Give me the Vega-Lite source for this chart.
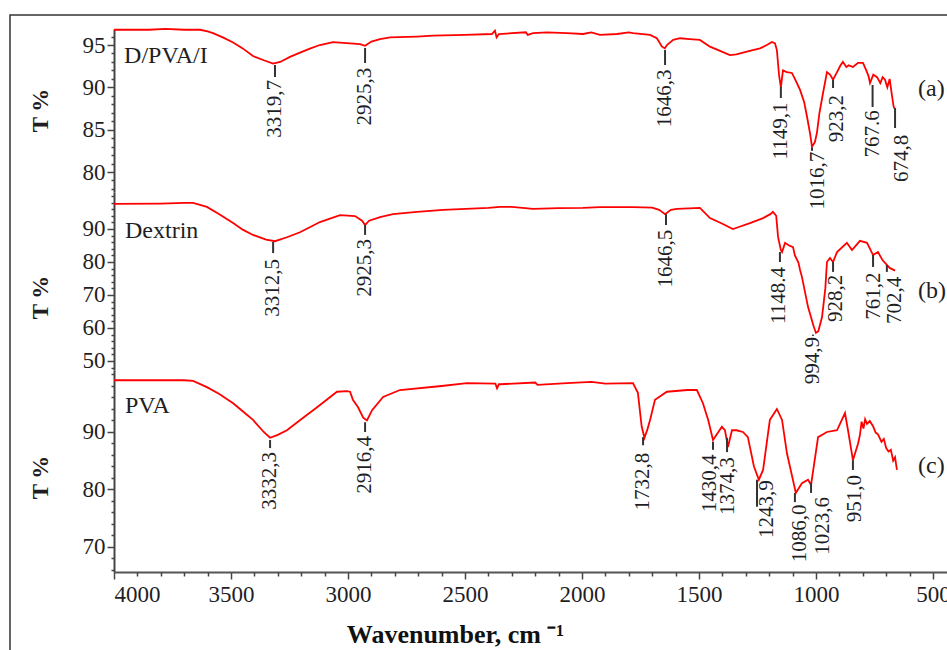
{
  "$schema": "https://vega.github.io/schema/vega-lite/v6.json",
  "autosize": "none",
  "width": 942,
  "height": 640,
  "padding": {"left": 10, "top": 15, "right": -5, "bottom": -5},
  "background": "white",
  "config": {
    "view": {"stroke": "#333333", "strokeWidth": 1.5},
    "axis": {"grid": false},
    "text": {"font": "Liberation Serif", "color": "#1e1e24"}
  },
  "datasets": {
    "spectra": [
      {"s":"a","wn":4000,"T":96.8},{"s":"a","wn":3850,"T":96.8},{"s":"a","wn":3780,"T":96.9},{"s":"a","wn":3700,"T":96.8},{"s":"a","wn":3632,"T":96.8},{"s":"a","wn":3600,"T":96.6},{"s":"a","wn":3577,"T":96.4},{"s":"a","wn":3535,"T":95.9},{"s":"a","wn":3491,"T":95.3},{"s":"a","wn":3450,"T":94.6},{"s":"a","wn":3406,"T":93.7},{"s":"a","wn":3360,"T":93.2},{"s":"a","wn":3320,"T":92.8},{"s":"a","wn":3290,"T":93.0},{"s":"a","wn":3248,"T":93.6},{"s":"a","wn":3205,"T":94.1},{"s":"a","wn":3160,"T":94.6},{"s":"a","wn":3120,"T":95.0},{"s":"a","wn":3064,"T":95.35},{"s":"a","wn":2991,"T":95.2},{"s":"a","wn":2949,"T":95.1},{"s":"a","wn":2927,"T":94.9},{"s":"a","wn":2900,"T":95.4},{"s":"a","wn":2863,"T":95.7},{"s":"a","wn":2820,"T":95.9},{"s":"a","wn":2705,"T":96.0},{"s":"a","wn":2637,"T":96.1},{"s":"a","wn":2500,"T":96.2},{"s":"a","wn":2385,"T":96.3},{"s":"a","wn":2372,"T":96.7},{"s":"a","wn":2365,"T":95.9},{"s":"a","wn":2355,"T":96.3},{"s":"a","wn":2240,"T":96.5},{"s":"a","wn":2232,"T":96.2},{"s":"a","wn":2209,"T":96.4},{"s":"a","wn":2150,"T":96.5},{"s":"a","wn":2064,"T":96.4},{"s":"a","wn":1996,"T":96.3},{"s":"a","wn":1960,"T":96.5},{"s":"a","wn":1923,"T":96.2},{"s":"a","wn":1850,"T":96.3},{"s":"a","wn":1800,"T":96.5},{"s":"a","wn":1782,"T":96.4},{"s":"a","wn":1709,"T":96.2},{"s":"a","wn":1680,"T":95.8},{"s":"a","wn":1658,"T":94.8},{"s":"a","wn":1646,"T":94.6},{"s":"a","wn":1637,"T":95.0},{"s":"a","wn":1610,"T":95.6},{"s":"a","wn":1581,"T":95.8},{"s":"a","wn":1540,"T":95.7},{"s":"a","wn":1496,"T":95.6},{"s":"a","wn":1453,"T":94.8},{"s":"a","wn":1410,"T":94.3},{"s":"a","wn":1368,"T":93.8},{"s":"a","wn":1340,"T":93.9},{"s":"a","wn":1312,"T":94.1},{"s":"a","wn":1270,"T":94.4},{"s":"a","wn":1239,"T":94.6},{"s":"a","wn":1210,"T":95.0},{"s":"a","wn":1188,"T":95.35},{"s":"a","wn":1175,"T":95.2},{"s":"a","wn":1167,"T":94.4},{"s":"a","wn":1158,"T":91.5},{"s":"a","wn":1150,"T":90.0},{"s":"a","wn":1141,"T":92.0},{"s":"a","wn":1125,"T":91.8},{"s":"a","wn":1103,"T":91.7},{"s":"a","wn":1090,"T":91.0},{"s":"a","wn":1068,"T":89.7},{"s":"a","wn":1050,"T":88.2},{"s":"a","wn":1038,"T":86.5},{"s":"a","wn":1025,"T":84.5},{"s":"a","wn":1017,"T":83.0},{"s":"a","wn":1005,"T":83.5},{"s":"a","wn":996,"T":84.6},{"s":"a","wn":985,"T":87.0},{"s":"a","wn":970,"T":89.3},{"s":"a","wn":953,"T":91.8},{"s":"a","wn":940,"T":91.5},{"s":"a","wn":927,"T":90.9},{"s":"a","wn":910,"T":91.8},{"s":"a","wn":895,"T":92.6},{"s":"a","wn":885,"T":93.0},{"s":"a","wn":870,"T":92.4},{"s":"a","wn":860,"T":92.6},{"s":"a","wn":842,"T":92.4},{"s":"a","wn":820,"T":92.9},{"s":"a","wn":799,"T":92.9},{"s":"a","wn":785,"T":92.0},{"s":"a","wn":775,"T":91.3},{"s":"a","wn":769,"T":90.5},{"s":"a","wn":755,"T":91.5},{"s":"a","wn":739,"T":91.2},{"s":"a","wn":725,"T":90.5},{"s":"a","wn":715,"T":91.2},{"s":"a","wn":705,"T":90.9},{"s":"a","wn":695,"T":90.0},{"s":"a","wn":685,"T":91.0},{"s":"a","wn":675,"T":89.0},{"s":"a","wn":668,"T":87.7},{"s":"a","wn":664,"T":87.5},

      {"s":"b","wn":4000,"T":97.6},{"s":"b","wn":3800,"T":97.7},{"s":"b","wn":3700,"T":97.9},{"s":"b","wn":3662,"T":97.9},{"s":"b","wn":3603,"T":96.7},{"s":"b","wn":3550,"T":94.5},{"s":"b","wn":3491,"T":91.8},{"s":"b","wn":3450,"T":89.8},{"s":"b","wn":3406,"T":88.2},{"s":"b","wn":3350,"T":86.8},{"s":"b","wn":3312,"T":86.3},{"s":"b","wn":3261,"T":87.5},{"s":"b","wn":3205,"T":89.0},{"s":"b","wn":3120,"T":92.1},{"s":"b","wn":3034,"T":94.2},{"s":"b","wn":2970,"T":93.9},{"s":"b","wn":2940,"T":92.5},{"s":"b","wn":2927,"T":91.2},{"s":"b","wn":2910,"T":92.5},{"s":"b","wn":2863,"T":93.6},{"s":"b","wn":2808,"T":94.5},{"s":"b","wn":2705,"T":95.2},{"s":"b","wn":2594,"T":95.8},{"s":"b","wn":2400,"T":96.4},{"s":"b","wn":2350,"T":96.7},{"s":"b","wn":2300,"T":96.7},{"s":"b","wn":2209,"T":96.1},{"s":"b","wn":2100,"T":96.3},{"s":"b","wn":1996,"T":96.4},{"s":"b","wn":1923,"T":96.6},{"s":"b","wn":1782,"T":96.6},{"s":"b","wn":1700,"T":96.5},{"s":"b","wn":1670,"T":95.8},{"s":"b","wn":1645,"T":94.5},{"s":"b","wn":1620,"T":95.8},{"s":"b","wn":1594,"T":96.1},{"s":"b","wn":1496,"T":96.4},{"s":"b","wn":1453,"T":93.3},{"s":"b","wn":1400,"T":91.6},{"s":"b","wn":1355,"T":90.0},{"s":"b","wn":1330,"T":90.6},{"s":"b","wn":1282,"T":91.8},{"s":"b","wn":1226,"T":93.3},{"s":"b","wn":1195,"T":94.5},{"s":"b","wn":1184,"T":95.2},{"s":"b","wn":1170,"T":94.0},{"s":"b","wn":1162,"T":87.6},{"s":"b","wn":1150,"T":83.6},{"s":"b","wn":1145,"T":83.0},{"s":"b","wn":1132,"T":85.8},{"s":"b","wn":1115,"T":85.0},{"s":"b","wn":1098,"T":84.5},{"s":"b","wn":1090,"T":82.0},{"s":"b","wn":1075,"T":79.8},{"s":"b","wn":1068,"T":77.6},{"s":"b","wn":1060,"T":75.5},{"s":"b","wn":1034,"T":66.4},{"s":"b","wn":1010,"T":60.5},{"s":"b","wn":1000,"T":58.5},{"s":"b","wn":990,"T":59.0},{"s":"b","wn":974,"T":63.3},{"s":"b","wn":960,"T":72.0},{"s":"b","wn":953,"T":80.0},{"s":"b","wn":940,"T":81.2},{"s":"b","wn":927,"T":80.0},{"s":"b","wn":910,"T":83.0},{"s":"b","wn":868,"T":85.8},{"s":"b","wn":846,"T":83.6},{"s":"b","wn":812,"T":86.4},{"s":"b","wn":782,"T":85.8},{"s":"b","wn":769,"T":84.0},{"s":"b","wn":756,"T":82.1},{"s":"b","wn":735,"T":83.0},{"s":"b","wn":715,"T":80.5},{"s":"b","wn":697,"T":79.1},{"s":"b","wn":685,"T":78.2},{"s":"b","wn":662,"T":77.4},

      {"s":"c","wn":4000,"T":99.0},{"s":"c","wn":3800,"T":99.0},{"s":"c","wn":3700,"T":99.0},{"s":"c","wn":3662,"T":98.9},{"s":"c","wn":3603,"T":97.8},{"s":"c","wn":3550,"T":96.6},{"s":"c","wn":3491,"T":95.0},{"s":"c","wn":3450,"T":93.6},{"s":"c","wn":3406,"T":92.1},{"s":"c","wn":3360,"T":90.0},{"s":"c","wn":3333,"T":89.0},{"s":"c","wn":3300,"T":89.5},{"s":"c","wn":3261,"T":90.3},{"s":"c","wn":3200,"T":92.2},{"s":"c","wn":3132,"T":94.3},{"s":"c","wn":3047,"T":97.0},{"s":"c","wn":3004,"T":97.1},{"s":"c","wn":2991,"T":97.0},{"s":"c","wn":2979,"T":95.6},{"s":"c","wn":2957,"T":94.3},{"s":"c","wn":2935,"T":92.5},{"s":"c","wn":2919,"T":92.0},{"s":"c","wn":2897,"T":93.8},{"s":"c","wn":2850,"T":96.1},{"s":"c","wn":2778,"T":97.3},{"s":"c","wn":2600,"T":98.0},{"s":"c","wn":2491,"T":98.5},{"s":"c","wn":2370,"T":98.4},{"s":"c","wn":2363,"T":97.6},{"s":"c","wn":2355,"T":98.3},{"s":"c","wn":2350,"T":98.3},{"s":"c","wn":2200,"T":98.6},{"s":"c","wn":2190,"T":98.2},{"s":"c","wn":2064,"T":98.5},{"s":"c","wn":1960,"T":98.7},{"s":"c","wn":1900,"T":98.4},{"s":"c","wn":1782,"T":98.5},{"s":"c","wn":1761,"T":96.8},{"s":"c","wn":1745,"T":91.0},{"s":"c","wn":1733,"T":89.0},{"s":"c","wn":1720,"T":90.5},{"s":"c","wn":1709,"T":92.1},{"s":"c","wn":1688,"T":95.6},{"s":"c","wn":1637,"T":97.0},{"s":"c","wn":1550,"T":97.3},{"s":"c","wn":1509,"T":97.3},{"s":"c","wn":1483,"T":95.0},{"s":"c","wn":1460,"T":92.0},{"s":"c","wn":1440,"T":88.6},{"s":"c","wn":1425,"T":89.5},{"s":"c","wn":1402,"T":90.9},{"s":"c","wn":1389,"T":90.3},{"s":"c","wn":1376,"T":87.4},{"s":"c","wn":1359,"T":90.3},{"s":"c","wn":1340,"T":90.3},{"s":"c","wn":1312,"T":90.0},{"s":"c","wn":1291,"T":89.1},{"s":"c","wn":1265,"T":84.0},{"s":"c","wn":1244,"T":81.7},{"s":"c","wn":1226,"T":83.4},{"s":"c","wn":1197,"T":92.1},{"s":"c","wn":1167,"T":94.0},{"s":"c","wn":1145,"T":92.1},{"s":"c","wn":1124,"T":86.3},{"s":"c","wn":1086,"T":79.4},{"s":"c","wn":1060,"T":81.1},{"s":"c","wn":1034,"T":81.7},{"s":"c","wn":1021,"T":80.8},{"s":"c","wn":991,"T":89.1},{"s":"c","wn":953,"T":90.0},{"s":"c","wn":910,"T":90.3},{"s":"c","wn":876,"T":93.3},{"s":"c","wn":863,"T":90.3},{"s":"c","wn":842,"T":85.1},{"s":"c","wn":820,"T":88.0},{"s":"c","wn":812,"T":89.5},{"s":"c","wn":805,"T":91.8},{"s":"c","wn":797,"T":90.6},{"s":"c","wn":790,"T":92.2},{"s":"c","wn":782,"T":91.4},{"s":"c","wn":770,"T":91.9},{"s":"c","wn":756,"T":91.0},{"s":"c","wn":745,"T":89.9},{"s":"c","wn":735,"T":89.6},{"s":"c","wn":720,"T":88.3},{"s":"c","wn":710,"T":88.8},{"s":"c","wn":700,"T":87.2},{"s":"c","wn":690,"T":86.6},{"s":"c","wn":680,"T":86.9},{"s":"c","wn":670,"T":85.0},{"s":"c","wn":662,"T":85.6},{"s":"c","wn":654,"T":83.4}
    ],
    "peaks": [
      {"s":"a","x":3312,"y1":92.64,"y2":91.22,"lx":3312,"ly":90.87,"t":"3319,7"},
      {"s":"a","x":2927,"y1":94.65,"y2":92.87,"lx":2927,"ly":92.3,"t":"2925,3"},
      {"s":"a","x":1645,"y1":94.41,"y2":92.64,"lx":1645,"ly":92.1,"t":"1646,3"},
      {"s":"a","x":1150,"y1":90.04,"y2":88.74,"lx":1150,"ly":88.2,"t":"1149,1"},
      {"s":"a","x":1017,"y1":82.9,"y2":82.5,"lx":991,"ly":82.4,"t":"1016,7"},
      {"s":"a","x":927,"y1":90.87,"y2":89.92,"lx":910,"ly":89.1,"t":"923,2"},
      {"s":"a","x":758,"y1":90.28,"y2":87.68,"lx":758,"ly":87.3,"t":"767.6"},
      {"s":"a","x":662,"y1":87.56,"y2":85.2,"lx":634,"ly":84.4,"t":"674,8"},
      {"s":"b","x":3320,"y1":86.06,"y2":82.7,"lx":3320,"ly":80.9,"t":"3312,5"},
      {"s":"b","x":2927,"y1":91.2,"y2":88.2,"lx":2927,"ly":87.0,"t":"2925,3"},
      {"s":"b","x":1641,"y1":94.5,"y2":91.2,"lx":1641,"ly":89.8,"t":"1646,5"},
      {"s":"b","x":1154,"y1":83.0,"y2":80.0,"lx":1160,"ly":78.5,"t":"1148.4"},
      {"s":"b","x":1013,"y1":58.0,"y2":57.6,"lx":1013,"ly":57.3,"t":"994,9"},
      {"s":"b","x":927,"y1":80.0,"y2":77.0,"lx":914,"ly":76.1,"t":"928,2"},
      {"s":"b","x":756,"y1":82.1,"y2":78.5,"lx":752,"ly":76.8,"t":"761,2"},
      {"s":"b","x":697,"y1":79.1,"y2":77.0,"lx":662,"ly":75.5,"t":"702,4"},
      {"s":"c","x":3333,"y1":88.6,"y2":87.2,"lx":3333,"ly":86.5,"t":"3332,3"},
      {"s":"c","x":2927,"y1":91.7,"y2":90.0,"lx":2927,"ly":89.3,"t":"2916,4"},
      {"s":"c","x":1739,"y1":89.1,"y2":87.7,"lx":1739,"ly":86.4,"t":"1732,8"},
      {"s":"c","x":1440,"y1":88.3,"y2":86.9,"lx":1453,"ly":86.1,"t":"1430,4"},
      {"s":"c","x":1380,"y1":89.0,"y2":86.5,"lx":1376,"ly":85.6,"t":"1374,3"},
      {"s":"c","x":1252,"y1":81.7,"y2":77.0,"lx":1209,"ly":81.6,"t":"1243,9"},
      {"s":"c","x":1090,"y1":79.4,"y2":77.8,"lx":1068,"ly":77.4,"t":"1086,0"},
      {"s":"c","x":1021,"y1":81.1,"y2":79.4,"lx":970,"ly":78.7,"t":"1023,6"},
      {"s":"c","x":842,"y1":85.1,"y2":83.4,"lx":833,"ly":82.5,"t":"951,0"}
    ],
    "names": [
      {"s":"a","x":3957,"y":92.87,"t":"D/PVA/I"},
      {"s":"a","x":564,"y":88.98,"t":"(a)"},
      {"s":"b","x":3953,"y":87.27,"t":"Dextrin"},
      {"s":"b","x":564,"y":69.1,"t":"(b)"},
      {"s":"c","x":3953,"y":93.3,"t":"PVA"},
      {"s":"c","x":564,"y":82.9,"t":"(c)"}
    ]
  },
  "layer": [
    {
      "layer": [
        {
          "data": {"name": "spectra"},
          "transform": [{"filter": "datum.s === 'a'"}],
          "mark": {"type": "line", "color": "#ff0000", "strokeWidth": 1.8},
          "encoding": {
            "x": {"field": "wn", "type": "quantitative", "scale": {"domain": [4000, 440], "range": [104, 937], "nice": false, "zero": false}, "axis": null},
            "y": {"field": "T", "type": "quantitative", "scale": {"domain": [77.64, 96.89], "range": [177, 14], "nice": false, "zero": false},
              "axis": {"orient": "left", "offset": -104, "values": [80, 85, 90, 95],
                "tickSize": 7, "tickColor": "#444444", "tickWidth": 1.5, "domainColor": "#444444", "domainWidth": 2,
                "labelFont": "Liberation Serif", "labelFontSize": 23, "labelColor": "#1e1e24", "labelPadding": 2,
                "title": "T %", "titleFont": "Liberation Serif", "titleFontSize": 23, "titleFontWeight": "bold", "titleColor": "#1e1e24",
                "titleX": -74, "titleY": 95, "titleAngle": -90, "titleAlign": "center", "titleBaseline": "middle"}}
          }
        },
        {
          "data": {"name": "peaks"},
          "transform": [{"filter": "datum.s === 'a'"}],
          "mark": {"type": "rule", "color": "#333333", "strokeWidth": 2},
          "encoding": {
            "x": {"field": "x", "type": "quantitative", "scale": {"domain": [4000, 440], "range": [104, 937], "nice": false, "zero": false}, "axis": null},
            "y": {"field": "y1", "type": "quantitative", "scale": {"domain": [77.64, 96.89], "range": [177, 14], "nice": false, "zero": false},
              "axis": {"orient": "left", "offset": -104, "values": [78,79,81,82,83,84,86,87,88,89,91,92,93,94,96],
                "labels": false, "domain": false, "title": null, "tickSize": 3, "tickColor": "#444444", "tickWidth": 1.5}},
            "y2": {"field": "y2"}
          }
        },
        {
          "data": {"name": "peaks"},
          "transform": [{"filter": "datum.s === 'a'"}],
          "mark": {"type": "text", "angle": 270, "align": "right", "baseline": "middle", "fontSize": 21},
          "encoding": {
            "x": {"field": "lx", "type": "quantitative", "scale": {"domain": [4000, 440], "range": [104, 937], "nice": false, "zero": false}, "axis": null},
            "y": {"field": "ly", "type": "quantitative", "scale": {"domain": [77.64, 96.89], "range": [177, 14], "nice": false, "zero": false}, "axis": null},
            "text": {"field": "t"}
          }
        },
        {
          "data": {"name": "names"},
          "transform": [{"filter": "datum.s === 'a'"}],
          "mark": {"type": "text", "align": "left", "baseline": "alphabetic", "fontSize": 24},
          "encoding": {
            "x": {"field": "x", "type": "quantitative", "scale": {"domain": [4000, 440], "range": [104, 937], "nice": false, "zero": false}, "axis": null},
            "y": {"field": "y", "type": "quantitative", "scale": {"domain": [77.64, 96.89], "range": [177, 14], "nice": false, "zero": false}, "axis": null},
            "text": {"field": "t"}
          }
        }
      ],
      "resolve": {"axis": {"y": "independent"}}
    },
    {
      "layer": [
        {
          "data": {"name": "spectra"},
          "transform": [{"filter": "datum.s === 'b'"}],
          "mark": {"type": "line", "color": "#ff0000", "strokeWidth": 1.8},
          "encoding": {
            "x": {"field": "wn", "type": "quantitative", "scale": {"domain": [4000, 440], "range": [104, 937], "nice": false, "zero": false}, "axis": null},
            "y": {"field": "T", "type": "quantitative", "scale": {"domain": [47.27, 101.21], "range": [355, 177], "nice": false, "zero": false},
              "axis": {"orient": "left", "offset": -104, "values": [50, 60, 70, 80, 90],
                "tickSize": 7, "tickColor": "#444444", "tickWidth": 1.5, "domainColor": "#444444", "domainWidth": 2,
                "labelFont": "Liberation Serif", "labelFontSize": 23, "labelColor": "#1e1e24", "labelPadding": 2,
                "title": "T %", "titleFont": "Liberation Serif", "titleFontSize": 23, "titleFontWeight": "bold", "titleColor": "#1e1e24",
                "titleX": -74, "titleY": 282, "titleAngle": -90, "titleAlign": "center", "titleBaseline": "middle"}}
          }
        },
        {
          "data": {"name": "peaks"},
          "transform": [{"filter": "datum.s === 'b'"}],
          "mark": {"type": "rule", "color": "#333333", "strokeWidth": 2},
          "encoding": {
            "x": {"field": "x", "type": "quantitative", "scale": {"domain": [4000, 440], "range": [104, 937], "nice": false, "zero": false}, "axis": null},
            "y": {"field": "y1", "type": "quantitative", "scale": {"domain": [47.27, 101.21], "range": [355, 177], "nice": false, "zero": false},
              "axis": {"orient": "left", "offset": -104, "values": [48,52,54,56,58,62,64,66,68,72,74,76,78,82,84,86,88,92,94,96,98,100],
                "labels": false, "domain": false, "title": null, "tickSize": 3, "tickColor": "#444444", "tickWidth": 1.5}},
            "y2": {"field": "y2"}
          }
        },
        {
          "data": {"name": "peaks"},
          "transform": [{"filter": "datum.s === 'b'"}],
          "mark": {"type": "text", "angle": 270, "align": "right", "baseline": "middle", "fontSize": 21},
          "encoding": {
            "x": {"field": "lx", "type": "quantitative", "scale": {"domain": [4000, 440], "range": [104, 937], "nice": false, "zero": false}, "axis": null},
            "y": {"field": "ly", "type": "quantitative", "scale": {"domain": [47.27, 101.21], "range": [355, 177], "nice": false, "zero": false}, "axis": null},
            "text": {"field": "t"}
          }
        },
        {
          "data": {"name": "names"},
          "transform": [{"filter": "datum.s === 'b'"}],
          "mark": {"type": "text", "align": "left", "baseline": "alphabetic", "fontSize": 24},
          "encoding": {
            "x": {"field": "x", "type": "quantitative", "scale": {"domain": [4000, 440], "range": [104, 937], "nice": false, "zero": false}, "axis": null},
            "y": {"field": "y", "type": "quantitative", "scale": {"domain": [47.27, 101.21], "range": [355, 177], "nice": false, "zero": false}, "axis": null},
            "text": {"field": "t"}
          }
        }
      ],
      "resolve": {"axis": {"y": "independent"}}
    },
    {
      "layer": [
        {
          "data": {"name": "spectra"},
          "transform": [{"filter": "datum.s === 'c'"}],
          "mark": {"type": "line", "color": "#ff0000", "strokeWidth": 1.8},
          "encoding": {
            "x": {"field": "wn", "type": "quantitative", "scale": {"domain": [4000, 440], "range": [104, 937], "nice": false, "zero": false},
              "axis": {"orient": "bottom", "offset": -83,
                "values": [4000, 3500, 3000, 2500, 2000, 1500, 1000, 500],
                "format": "d",
                "tickSize": 7, "tickColor": "#444444", "tickWidth": 1.5, "domainColor": "#555555", "domainWidth": 2,
                "labelFont": "Liberation Serif", "labelFontSize": 23, "labelColor": "#1e1e24", "labelPadding": 4,
                "title": "Wavenumber, cm ⁻¹", "titleFont": "Liberation Serif", "titleFontSize": 26, "titleFontWeight": "bold", "titleColor": "#111111",
                "titleX": 445, "titleY": 70, "titleAlign": "center", "titleBaseline": "alphabetic"}},
            "y": {"field": "T", "type": "quantitative", "scale": {"domain": [65.65, 100.78], "range": [557, 355], "nice": false, "zero": false},
              "axis": {"orient": "left", "offset": -104, "values": [70, 80, 90],
                "tickSize": 7, "tickColor": "#444444", "tickWidth": 1.5, "domainColor": "#444444", "domainWidth": 2,
                "labelFont": "Liberation Serif", "labelFontSize": 23, "labelColor": "#1e1e24", "labelPadding": 2,
                "title": "T %", "titleFont": "Liberation Serif", "titleFontSize": 23, "titleFontWeight": "bold", "titleColor": "#1e1e24",
                "titleX": -74, "titleY": 462, "titleAngle": -90, "titleAlign": "center", "titleBaseline": "middle"}}
          }
        },
        {
          "data": {"name": "peaks"},
          "transform": [{"filter": "datum.s === 'c'"}],
          "mark": {"type": "rule", "color": "#333333", "strokeWidth": 2},
          "encoding": {
            "x": {"field": "x", "type": "quantitative", "scale": {"domain": [4000, 440], "range": [104, 937], "nice": false, "zero": false},
              "axis": {"orient": "bottom", "offset": -83,
                "values": [3900,3800,3700,3600,3400,3300,3200,3100,2900,2800,2700,2600,2400,2300,2200,2100,1900,1800,1700,1600,1400,1300,1200,1100,900,800,700,600],
                "labels": false, "domain": false, "title": null, "tickSize": 4, "tickColor": "#444444", "tickWidth": 1.5}},
            "y": {"field": "y1", "type": "quantitative", "scale": {"domain": [65.65, 100.78], "range": [557, 355], "nice": false, "zero": false},
              "axis": {"orient": "left", "offset": -104, "values": [66,68,72,74,76,78,82,84,86,88,92,94,96,98,100],
                "labels": false, "domain": false, "title": null, "tickSize": 3, "tickColor": "#444444", "tickWidth": 1.5}},
            "y2": {"field": "y2"}
          }
        },
        {
          "data": {"name": "peaks"},
          "transform": [{"filter": "datum.s === 'c'"}],
          "mark": {"type": "text", "angle": 270, "align": "right", "baseline": "middle", "fontSize": 21},
          "encoding": {
            "x": {"field": "lx", "type": "quantitative", "scale": {"domain": [4000, 440], "range": [104, 937], "nice": false, "zero": false}, "axis": null},
            "y": {"field": "ly", "type": "quantitative", "scale": {"domain": [65.65, 100.78], "range": [557, 355], "nice": false, "zero": false}, "axis": null},
            "text": {"field": "t"}
          }
        },
        {
          "data": {"name": "names"},
          "transform": [{"filter": "datum.s === 'c'"}],
          "mark": {"type": "text", "align": "left", "baseline": "alphabetic", "fontSize": 24},
          "encoding": {
            "x": {"field": "x", "type": "quantitative", "scale": {"domain": [4000, 440], "range": [104, 937], "nice": false, "zero": false}, "axis": null},
            "y": {"field": "y", "type": "quantitative", "scale": {"domain": [65.65, 100.78], "range": [557, 355], "nice": false, "zero": false}, "axis": null},
            "text": {"field": "t"}
          }
        }
      ],
      "resolve": {"axis": {"y": "independent", "x": "independent"}}
    }
  ],
  "resolve": {"scale": {"y": "independent"}, "axis": {"y": "independent", "x": "independent"}}
}
